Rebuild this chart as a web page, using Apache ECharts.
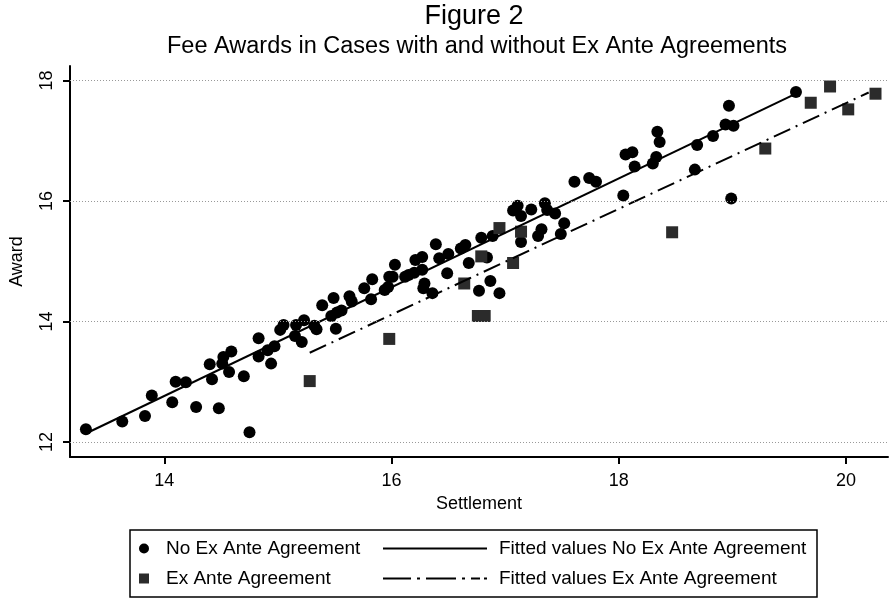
<!DOCTYPE html>
<html>
<head>
<meta charset="utf-8">
<script src="https://cdn.jsdelivr.net/npm/echarts@6/dist/echarts.min.js"></script>
<style>html,body{margin:0;padding:0;background:#fff}#c{width:890px;height:600px}</style>
</head>
<body>
<div id="c"></div>
<script>
// --- data ---
const noExSettle = [13.31,13.63,13.83,13.89,14.07,14.10,14.19,14.28,14.40,14.42,14.48,14.52,14.51,14.57,14.59,14.70,14.75,14.83,14.83,14.91,14.97,14.94,15.02,15.05,15.16,15.15,15.23,15.21,15.34,15.32,15.39,15.51,15.49,15.47,15.52,15.56,15.63,15.65,15.76,15.82,15.83,15.94,15.97,15.98,16.01,16.03,16.12,16.15,16.21,16.27,16.20,16.27,16.29,16.28,16.36,16.39,16.42,16.50,16.49,16.61,16.65,16.68,16.79,16.84,16.77,16.87,16.89,16.95,17.07,17.11,17.14,17.14,17.23,17.32,17.29,17.35,17.37,17.44,17.52,17.49,17.61,17.74,17.80,18.04,18.06,18.12,18.14,18.30,18.33,18.34,18.36,18.67,18.69,18.83,18.94,18.97,19.01,18.99,19.56];
const noExAward  = [12.21,12.34,12.43,12.77,12.66,13.00,12.99,12.58,13.29,13.04,12.56,13.41,13.30,13.16,13.50,13.09,12.16,13.72,13.42,13.52,13.59,13.30,13.86,13.94,13.94,13.76,14.02,13.66,13.87,13.93,14.27,13.88,14.39,14.09,14.15,14.18,14.42,14.33,14.55,14.37,14.70,14.52,14.57,14.74,14.74,14.94,14.74,14.77,15.02,15.07,14.81,14.86,14.63,14.55,14.47,15.28,15.05,15.12,14.80,15.21,15.27,14.97,15.39,15.06,14.51,14.67,15.42,14.47,15.84,15.92,15.75,15.32,15.86,15.53,15.42,15.96,15.85,15.79,15.63,15.45,16.32,16.38,16.32,16.09,16.77,16.81,16.57,16.62,16.73,17.15,16.98,16.52,16.93,17.08,17.27,17.58,17.25,16.04,17.81];
const exSettle = [15.28,15.98,16.64,16.76,16.82,16.79,16.95,17.07,17.14,18.47,19.29,19.69,19.86,20.02,20.26];
const exAward  = [13.01,13.71,14.63,14.09,14.09,15.08,15.55,14.97,15.49,15.48,16.87,17.63,17.90,17.52,17.78];
const fitNoX = [13.31, 19.56];
const fitNoY = [12.14, 17.78];
const fitExX = [15.28, 20.20];
const fitExY = [13.48, 17.80];
const xTicks = [14, 16, 18, 20];
const yTicks = [12, 14, 16, 18];

const pairs = (xs, ys) => xs.map((x, i) => [x, ys[i]]);
const FONT = 'Liberation Sans, Arial, sans-serif';
const legendText = {fontFamily: FONT, fontSize: 19, color: '#000'};
const solidIcon = 'path://M0,0H104V2H0Z';
const dashDotIcon = 'path://M0,0H28V2H0Z M34,0H37V2H34Z M43,0H73V2H43Z M79,0H82V2H79Z M88,0H97V2H88Z M101,0H104V2H101Z';

const chart = echarts.init(document.getElementById('c'), null, {renderer: 'canvas'});
chart.setOption({
  backgroundColor: '#fff',
  animation: false,
  title: [
    {text: 'Figure 2', left: 474, top: 3, padding: 0, textAlign: 'center',
     textStyle: {fontFamily: FONT, fontSize: 27, fontWeight: 'normal', color: '#000'}},
    {text: 'Fee Awards in Cases with and without Ex Ante Agreements', left: 477, top: 35, padding: 0, textAlign: 'center',
     textStyle: {fontFamily: FONT, fontSize: 23.5, fontWeight: 'normal', color: '#000'}}
  ],
  grid: {left: 61, right: 2, top: 66, bottom: 143, containLabel: false},
  xAxis: {
    type: 'value', min: 13.17, max: 20.37,
    name: 'Settlement', nameLocation: 'middle', nameGap: 36,
    nameTextStyle: {fontFamily: FONT, fontSize: 18, color: '#000'},
    axisLine: {show: true, lineStyle: {color: '#000', width: 2}},
    axisTick: {show: true, length: 7, lineStyle: {color: '#000', width: 2}, customValues: xTicks},
    axisLabel: {fontFamily: FONT, fontSize: 18, color: '#000', margin: 15, customValues: xTicks},
    splitLine: {show: false}
  },
  yAxis: {
    type: 'value', min: 11.75, max: 18.24,
    name: 'Award', nameLocation: 'middle', nameGap: 44, nameRotate: 90,
    nameTextStyle: {fontFamily: FONT, fontSize: 18, color: '#000'},
    axisLine: {show: true, lineStyle: {color: '#000', width: 2}},
    axisTick: {show: true, length: 7, lineStyle: {color: '#000', width: 2}, customValues: yTicks},
    axisLabel: {fontFamily: FONT, fontSize: 18, color: '#000', margin: 14, rotate: 90, customValues: yTicks},
    splitLine: {show: false}
  },
  legend: [
    {left: 139, top: 539, padding: 0, itemWidth: 10, itemHeight: 10,
     data: ['No Ex Ante Agreement'], textStyle: Object.assign({padding: [0, 0, 0, 12]}, legendText)},
    {left: 139, top: 569, padding: 0, itemWidth: 10, itemHeight: 10,
     data: ['Ex Ante Agreement'], textStyle: Object.assign({padding: [0, 0, 0, 12]}, legendText)},
    {left: 383, top: 539, padding: 0, itemWidth: 104, itemHeight: 2,
     data: [{name: 'Fitted values No Ex Ante Agreement', icon: solidIcon}],
     textStyle: Object.assign({padding: [0, 0, 0, 7]}, legendText)},
    {left: 383, top: 569, padding: 0, itemWidth: 104, itemHeight: 2,
     data: [{name: 'Fitted values Ex Ante Agreement', icon: dashDotIcon}],
     textStyle: Object.assign({padding: [0, 0, 0, 7]}, legendText)}
  ],
  graphic: [
    {type: 'rect', shape: {x: 130, y: 530, width: 687, height: 67}, silent: true,
     style: {fill: 'none', stroke: '#000', lineWidth: 1.5}}
  ],
  series: [
    {name: 'No Ex Ante Agreement', type: 'scatter', symbol: 'circle', symbolSize: 12,
     itemStyle: {color: '#000', opacity: 1}, data: pairs(noExSettle, noExAward), z: 3,
     markLine: {silent: true, symbol: 'none', label: {show: false},
       lineStyle: {color: '#999', type: [1, 2], width: 1},
       data: yTicks.map(v => ({yAxis: v}))}},
    {name: 'Ex Ante Agreement', type: 'scatter', symbol: 'rect', symbolSize: 12,
     itemStyle: {color: '#2b2b2b', opacity: 1}, data: pairs(exSettle, exAward), z: 3},
    {name: 'Fitted values No Ex Ante Agreement', type: 'line', symbol: 'none',
     lineStyle: {color: '#000', width: 2, type: 'solid'}, itemStyle: {color: '#000'},
     data: pairs(fitNoX, fitNoY), z: 4},
    {name: 'Fitted values Ex Ante Agreement', type: 'line', symbol: 'none',
     lineStyle: {color: '#000', width: 2, type: [18, 6, 2, 6]}, itemStyle: {color: '#000'},
     data: pairs(fitExX, fitExY), z: 4}
  ]
});
</script>
</body>
</html>
